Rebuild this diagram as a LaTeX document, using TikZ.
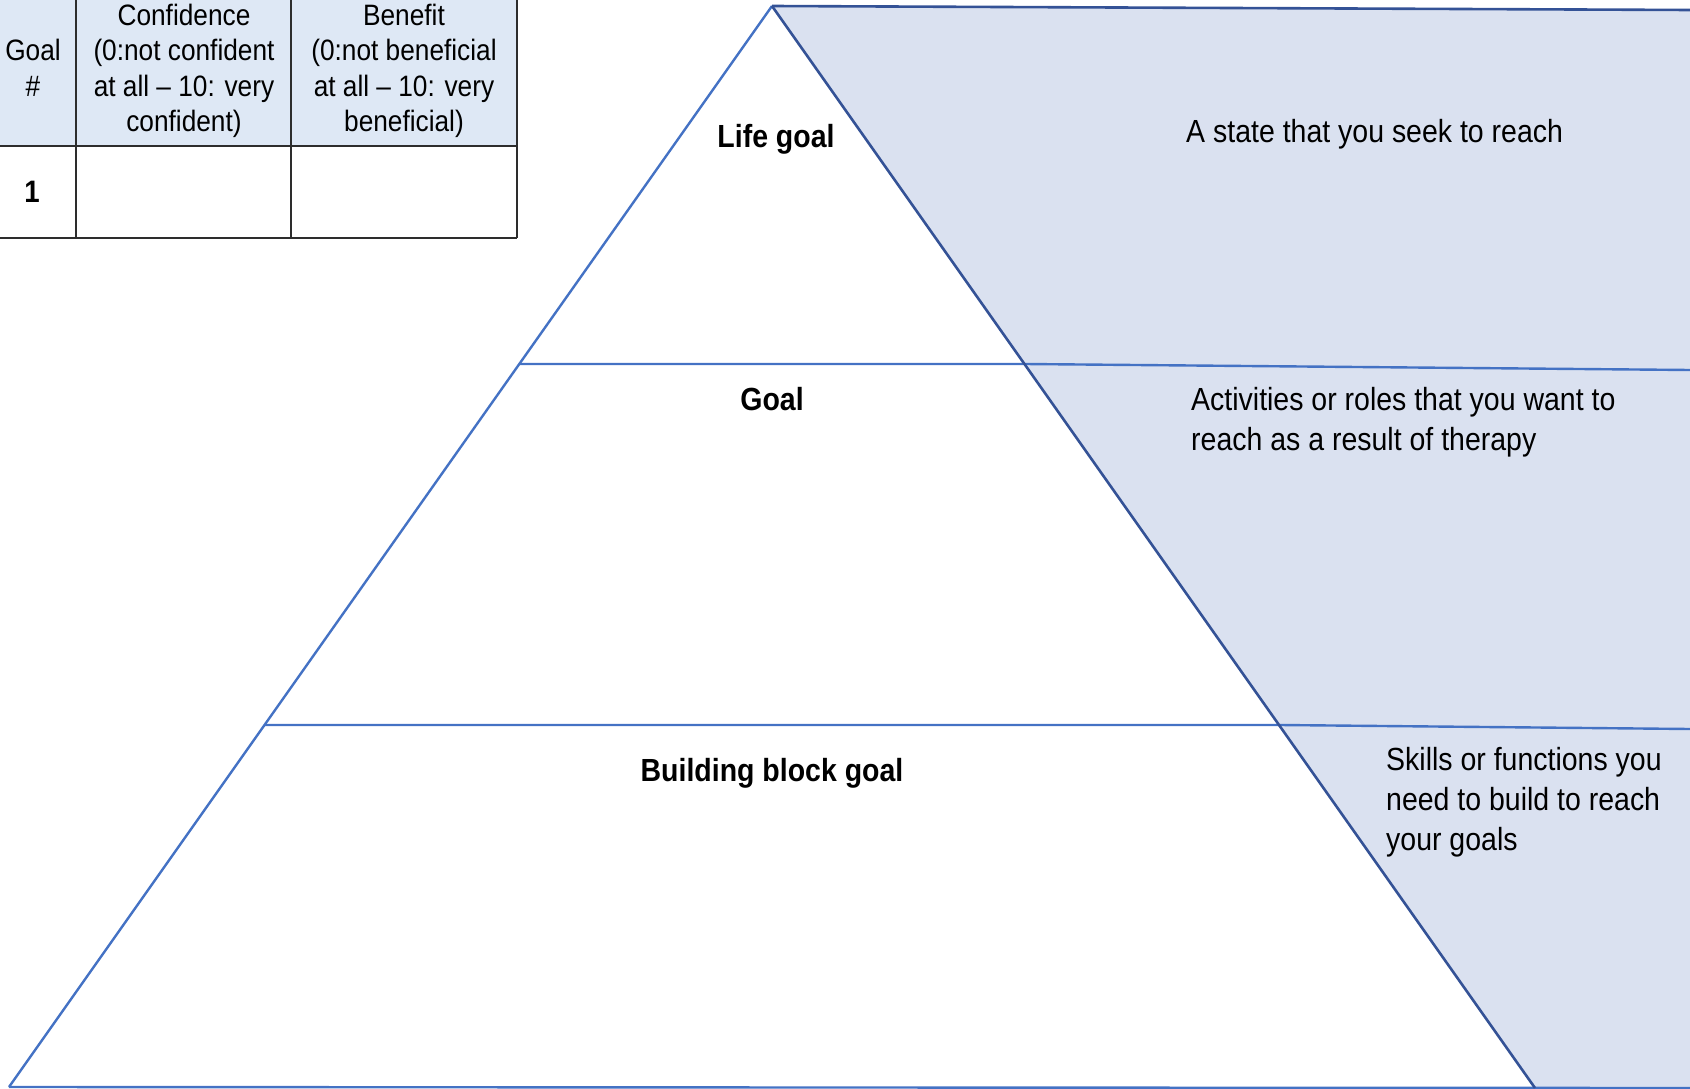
\documentclass[tikz,border=0pt]{standalone}
\usepackage{fontspec}
\setmainfont{Liberation Sans}[FakeStretch=0.89]
\definecolor{shadefill}{RGB}{218,225,240}
\definecolor{headfill}{RGB}{222,232,245}
\definecolor{pyrline}{RGB}{68,114,196}
\definecolor{darkline}{RGB}{52,82,150}
\definecolor{tabline}{RGB}{45,45,45}
\tikzset{
  pyr/.style={draw=pyrline, line width=2.4pt},
  pyrdark/.style={draw=darkline, line width=2.6pt},
  tab/.style={draw=tabline, line width=2pt},
  lbl/.style={font=\fontsize{32}{40}\selectfont\bfseries, inner sep=0pt},
  desc/.style={font=\fontsize{32}{40}\selectfont, inner sep=0pt, align=left, anchor=west},
  cell/.style={font=\fontsize{29.5}{35.5}\selectfont, inner sep=0pt, align=center}
}
\begin{document}
\begin{tikzpicture}[x=1pt,y=-1pt]
\useasboundingbox (0,0) rectangle (1690,1089);
% coordinates
\coordinate (apex) at (772,6);
\coordinate (tr) at (1690,10);
\coordinate (br) at (1690,1089);
\coordinate (bl) at (9,1087);
\coordinate (bre) at (1535,1088);
\coordinate (bfar) at (1690,1088);
\coordinate (l1a) at (519,364);
\coordinate (l1b) at (1690,370);
\coordinate (l2a) at (264.5,725);
\coordinate (l2b) at (1690,729);
% shaded region
\fill[shadefill] (apex) -- (tr) -- (br) -- (1535,1089) -- cycle;
% lines
\draw[pyr] (l1a) -- (1025,364) -- (l1b);
\draw[pyr] (l2a) -- (1280,725) -- (l2b);
\draw[pyr] (bl) -- (bfar);
\draw[pyr] (apex) -- (bl);
\draw[pyrdark] (apex) -- (tr);
\draw[pyrdark] (apex) -- (bre);
% labels
\node[lbl] (lifegoal) at (776,139) {Life goal};
\node[lbl] (goal) at (772,399) {Goal};
\node[lbl] (bbgoal) at (772,773) {Building block goal};
\node[desc] (d1) at (1186,134.5) {A state that you seek to reach};
\node[desc] (d2) at (1191,422) {Activities or roles that you want to\\reach as a result of therapy};
\node[desc] (d3) at (1386,802) {Skills or functions you\\need to build to reach\\your goals};
% table
\fill[headfill] (-2,-2) rectangle (517,146);
\draw[tab] (-2,146) -- (517,146);
\draw[tab] (-2,238) -- (517,238);
\draw[tab] (76,-2) -- (76,238);
\draw[tab] (291,-2) -- (291,238);
\draw[tab] (517,-2) -- (517,238);
\node[cell] (h1) at (33,68) {Goal\\\#};
\node[cell] (h2) at (184,71) {Confidence\\(0:not confident\\at all -- 10: very\\confident)};
\node[cell] (h3) at (404,71) {Benefit\\(0:not beneficial\\at all -- 10: very\\beneficial)};
\node[cell, font=\fontsize{31}{35.5}\selectfont\bfseries] (r1) at (32,192) {1};
\end{tikzpicture}
\end{document}
